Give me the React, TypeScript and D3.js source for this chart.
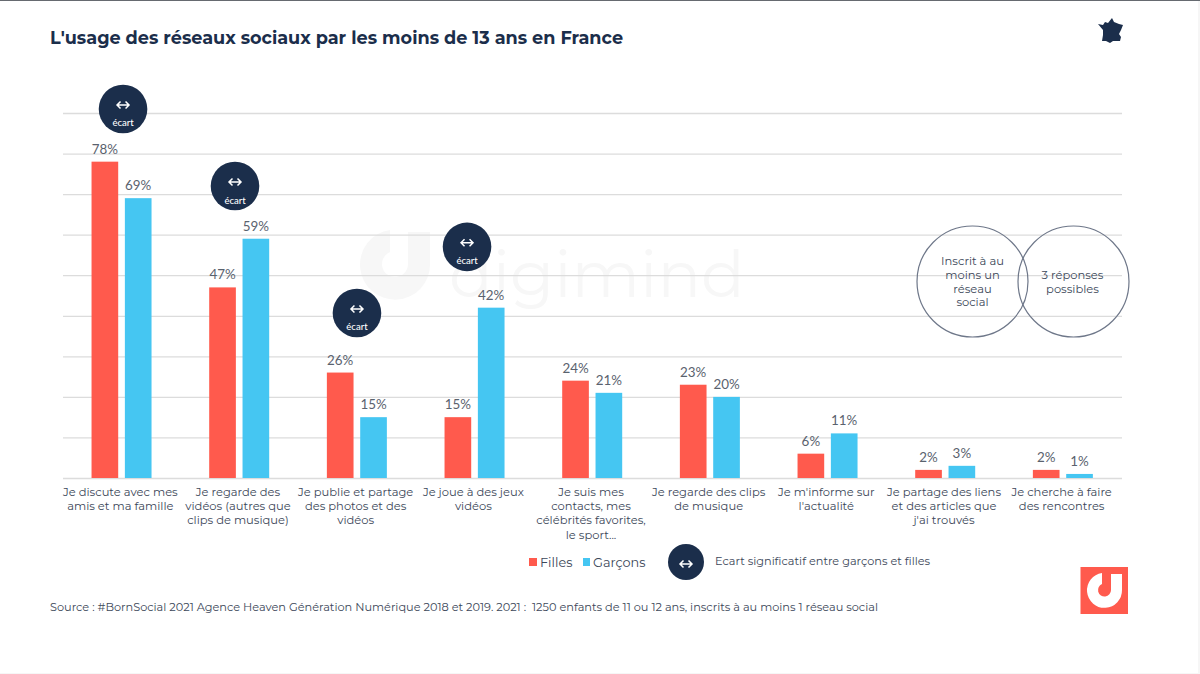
import React, { useEffect, useRef } from 'react';
import * as d3 from 'd3';

const categories = [
  ['Je discute avec mes', 'amis et ma famille'],
  ['Je regarde des', 'vidéos (autres que', 'clips de musique)'],
  ['Je publie et partage', 'des photos et des', 'vidéos'],
  ['Je joue à des jeux', 'vidéos'],
  ['Je suis mes', 'contacts, mes', 'célébrités favorites,', 'le sport...'],
  ['Je regarde des clips', 'de musique'],
  ["Je m'informe sur", "l'actualité"],
  ['Je partage des liens', 'et des articles que', "j'ai trouvés"],
  ['Je cherche à faire', 'des rencontres'],
];
const filles = [78, 47, 26, 15, 24, 23, 6, 2, 2];
const garcons = [69, 59, 15, 42, 21, 20, 11, 3, 1];
const ecartCats = [0, 1, 2, 3];
const ecartLevels = [91, 72, 40.7, 57];
const gridTicks = [0, 10, 20, 30, 40, 50, 60, 70, 80, 90];
const seriesKeys = ['Filles', 'Garçons'];
const NAVY = '#1b2e4b';
const RED = '#ff5a4d';
const BLUE = '#45c6f2';
const LABEL = 'Montserrat, Inter, "Noto Sans", sans-serif';
const LOGO = 'M-2.5 -17 A17.5 17.5 0 1 0 17.5 0 L17.5 -16 L6.5 -16 L6.5 0 A6.5 6.5 0 1 1 -2.5 -6 Z';

export default function App() {
  const ref = useRef<SVGSVGElement>(null);

  useEffect(() => {
    if (!ref.current) return;
    const svg = d3.select(ref.current);
    svg.selectAll('*').remove();

    const x = d3.scaleBand().domain(categories.map((_, i) => String(i))).range([63, 1122]);
    const inner = d3.scaleBand().domain(seriesKeys).range([-30.3, 29.7]).paddingInner(0.2);
    const y = d3.scaleLinear().domain([0, 90]).range([478, 113]);
    const cx = (i: number) => x(String(i))! + x.bandwidth() / 2;

    svg.append('rect').attr('width', 1200).attr('height', 674).attr('fill', '#fff');
    svg.append('rect').attr('x', 1198).attr('width', 2).attr('height', 674).attr('fill', '#f6f6f6');
    svg.append('rect').attr('y', 673).attr('width', 1200).attr('height', 1).attr('fill', '#f6f6f6');
    svg.append('rect').attr('width', 1200).attr('height', 1).attr('fill', '#666a70');

    svg.append('text').attr('x', 50).attr('y', 44).attr('font-family', LABEL)
      .attr('font-weight', 700).attr('font-size', 17.65).attr('fill', NAVY)
      .text("L'usage des réseaux sociaux par les moins de 13 ans en France");

    // watermark behind the grid
    const wm = svg.append('g');
    wm.append('path').attr('d', LOGO).attr('transform', 'translate(395,264) scale(2)').attr('fill', '#f7f7f7');
    wm.append('text').attr('x', 449).attr('y', 297).attr('font-family', LABEL)
      .attr('font-size', 64.5).attr('font-weight', 400).attr('fill', '#f7f7f7').text('digimind');

    // grid
    svg.append('g')
      .call(d3.axisLeft(y).tickValues(gridTicks).tickSize(-1059).tickFormat(() => ''))
      .attr('transform', 'translate(63,0)')
      .call(g => g.select('.domain').remove())
      .call(g => g.selectAll('.tick line').attr('stroke', '#dcdcdc').attr('stroke-width', 1.3));

    // bars
    const series = [
      { key: 'Filles', values: filles, color: RED },
      { key: 'Garçons', values: garcons, color: BLUE },
    ];
    series.forEach(s => {
      const g = svg.append('g');
      g.selectAll('rect').data(s.values).enter().append('rect')
        .attr('x', (_, i) => cx(i) + inner(s.key)!).attr('width', inner.bandwidth())
        .attr('y', d => y(d)).attr('height', d => 478 - y(d)).attr('fill', s.color);
      g.selectAll('text').data(s.values).enter().append('text')
        .attr('x', (_, i) => cx(i) + inner(s.key)! + inner.bandwidth() / 2).attr('y', d => y(d) - 8)
        .attr('text-anchor', 'middle').attr('font-family', 'Lato, sans-serif').attr('font-weight', 400)
        .attr('font-size', 13.4).attr('fill', '#5a626e').text(d => `${d}%`);
    });

    // category labels
    const lab = svg.append('g').attr('font-family', LABEL).attr('font-size', 11.5)
      .attr('fill', '#3c4759').attr('text-anchor', 'middle');
    categories.forEach((lines, i) => {
      const t = lab.append('text').attr('y', 496);
      lines.forEach((l, k) => t.append('tspan').attr('x', cx(i) - 1.5).attr('dy', k ? 14.2 : 0).text(l));
    });

    const arrow = (g: d3.Selection<SVGGElement, unknown, null, undefined>, ax: number, ay: number) => {
      g.append('path')
        .attr('d', `M${ax - 5.5} ${ay}H${ax + 5.5}M${ax - 2.5} ${ay - 3.5}L${ax - 6} ${ay}L${ax - 2.5} ${ay + 3.5}M${ax + 2.5} ${ay - 3.5}L${ax + 6} ${ay}L${ax + 2.5} ${ay + 3.5}`)
        .attr('fill', 'none').attr('stroke', '#fff').attr('stroke-width', 1.5);
    };

    // ecart badges, nudged off their group centre as in the slide
    const nudge = d3.scaleOrdinal<number, number>().domain(ecartCats).range([1.2, -4.5, -0.2, -7.8]);
    ecartCats.forEach((c, i) => {
      const bx = cx(c) + nudge(c);
      const by = y(ecartLevels[i]);
      const g = svg.append('g');
      g.append('circle').attr('cx', bx).attr('cy', by).attr('r', 24.3).attr('fill', NAVY);
      arrow(g, bx, by - 4);
      g.append('text').attr('x', bx).attr('y', by + 17.5).attr('text-anchor', 'middle')
        .attr('font-family', 'Lato, sans-serif').attr('font-size', 9.5).attr('font-weight', 500)
        .attr('fill', '#fff').text('écart');
    });

    // scope circles
    const notes = svg.append('g').attr('font-family', LABEL).attr('font-size', 11.5)
      .attr('fill', '#3c4759').attr('text-anchor', 'middle');
    const noteData = [
      { cx: 972.5, lines: ['Inscrit à au', 'moins un', 'réseau', 'social'], top: 265, lead: 13.8 },
      { cx: 1073.5, lines: ['3 réponses', 'possibles'], top: 279, lead: 14.3 },
    ];
    noteData.forEach(n => {
      notes.append('circle').attr('cx', n.cx).attr('cy', 281.5).attr('r', 55.5)
        .attr('fill', 'none').attr('stroke', '#6e7789').attr('stroke-width', 1.2);
      const t = notes.append('text').attr('y', n.top);
      n.lines.forEach((l, k) => t.append('tspan').attr('x', n.cx - (n.lines.length === 4 ? 0 : 1)).attr('dy', k ? n.lead : 0).text(l));
    });

    // legend
    const legend = svg.append('g').attr('font-family', LABEL).attr('font-size', 12.8).attr('fill', '#3c4759');
    legend.append('rect').attr('x', 529).attr('y', 558).attr('width', 8).attr('height', 8).attr('fill', RED);
    legend.append('text').attr('x', 540).attr('y', 567).text('Filles');
    legend.append('rect').attr('x', 583).attr('y', 558).attr('width', 7).attr('height', 8).attr('fill', BLUE);
    legend.append('text').attr('x', 593).attr('y', 567).text('Garçons');
    const lb = svg.append('g');
    lb.append('circle').attr('cx', 686).attr('cy', 562).attr('r', 18).attr('fill', NAVY);
    arrow(lb, 686, 564);
    svg.append('text').attr('x', 715).attr('y', 565).attr('font-family', LABEL).attr('font-size', 11.3)
      .attr('fill', '#3c4759').text('Ecart significatif entre garçons et filles');

    // source
    svg.append('text').attr('x', 50).attr('y', 611).attr('font-family', LABEL).attr('font-size', 11.34)
      .attr('fill', '#3c4759')
      .text('Source : #BornSocial 2021 Agence Heaven Génération Numérique 2018 et 2019. 2021 :\u00a0 1250 enfants de 11 ou 12 ans, inscrits à au moins 1 réseau social');

    // France
    svg.append('path')
      .attr('d', 'M1098 24 L1103 25 L1105 22 L1108 23 L1112 18 L1114 22 L1119 24 L1123 25 L1121 30 L1119 34 L1121 37 L1120 41 L1113 41 L1110 43 L1106 41 L1102 41 L1103 35 L1103 30 Z')
      .attr('fill', NAVY);

    // logo
    svg.append('rect').attr('x', 1080.5).attr('y', 567).attr('width', 47.5).attr('height', 47).attr('fill', RED);
    svg.append('path').attr('d', LOGO).attr('transform', 'translate(1104.5,590)').attr('fill', '#fff');
  }, []);

  return <svg ref={ref} width={1200} height={674} style={{ position: 'absolute', left: 0, top: 0 }} />;
}
